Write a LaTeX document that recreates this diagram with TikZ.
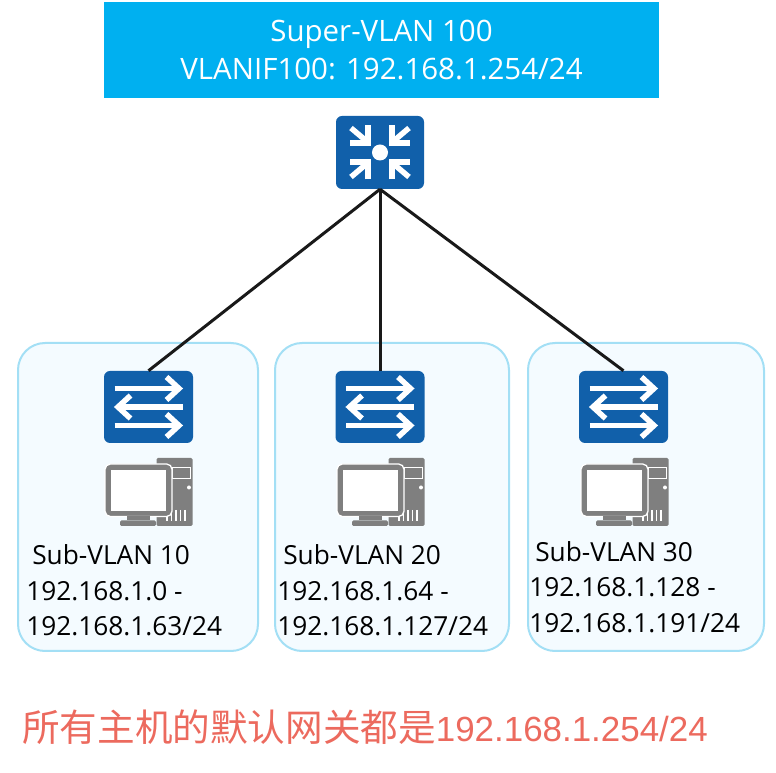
\documentclass[tikz,border=0pt]{standalone}
\usepackage{fontspec}
\setmainfont{Open Sans}
\newfontfamily\cjkfont{Noto Sans CJK SC}
\newfontfamily\arialfont{Liberation Sans}
\usetikzlibrary{positioning}
\newcommand{\unitpx}{0.75pt}
\definecolor{iconblue}{HTML}{1160AA}
\definecolor{pcgray}{HTML}{7F7F7F}
\definecolor{vlanfill}{HTML}{F4FBFF}
\definecolor{vlanedge}{HTML}{A3DFF5}
\definecolor{headfill}{HTML}{00B0F0}
\definecolor{notered}{HTML}{EC6A5E}
\tikzstyle{vlanbox} =
        [
                rectangle,
                draw = vlanedge,
                line width = 2*\unitpx,
                fill = vlanfill,
                rounded corners = 27*\unitpx,
                minimum height = 308*\unitpx,
                inner sep = 0pt
        ]
\tikzstyle{devbox} =
        [
                rectangle,
                fill = iconblue,
                rounded corners = 6*\unitpx,
                minimum width = 89*\unitpx,
                minimum height = 72*\unitpx,
                inner sep = 0pt
        ]
\tikzstyle{header} =
        [
                rectangle,
                fill = headfill,
                text = white,
                align = center,
                minimum width = 555*\unitpx,
                minimum height = 96*\unitpx,
                inner sep = 0pt,
                font = \fontsize{22.1pt}{28pt}\selectfont
        ]
\tikzstyle{label} =
        [
                anchor = north west,
                align = left,
                inner sep = 0pt,
                text = black,
                font = \fontsize{19.7pt}{26.6pt}\selectfont
        ]
\tikzstyle{link} =
        [
                draw = black!90,
                line width = 3*\unitpx
        ]
\tikzset{
        whiteline/.style = {draw = white, line width = 5.5*\unitpx, miter limit = 10},
        swarrows/.pic = {
                \draw [whiteline] (-34,-18.5) -- (30,-18.5);
                \draw [whiteline] (18,-30) -- (30.5,-18.5) -- (18,-7);
                \draw [whiteline] (34,0) -- (-30,0);
                \draw [whiteline] (-18,-11.5) -- (-30.5,0) -- (-18,11.5);
                \draw [whiteline] (-34,18.5) -- (30,18.5);
                \draw [whiteline] (18,7) -- (30.5,18.5) -- (18,30);
        },
        rtarrows/.pic = {
                \fill [white] (0,0) circle (8);
                \foreach \sx in {1,-1} {
                        \foreach \sy in {1,-1} {
                                \begin{scope}[xscale = \sx, yscale = \sy]
                                        \draw [whiteline] (-11.8,-27) -- (-11.8,-9.4) -- (-30,-9.4);
                                        \draw [whiteline] (-29,-24.5) -- (-13,-11);
                                \end{scope}
                        }
                }
        },
        pcicon/.pic = {
                % tower
                \fill [pcgray, rounded corners = 1] (7.5,-34) rectangle (43.5,34);
                \draw [white, line width = 1*\unitpx] (23.5,-24) rectangle (41.5,-13.5);
                \fill [white] (40,-4.5) circle (2);
                \foreach \ventx in {18,22.5,27,31.5,36} {
                        \draw [white, line width = 1.3*\unitpx] (\ventx,18) -- (\ventx,29);
                }
                % monitor
                \fill [pcgray, rounded corners = 4, draw = white, line width = 1.3*\unitpx] (-44,-28) rectangle (23,24.5);
                \fill [white] (-38,-21.5) rectangle (17,19);
                \fill [pcgray] (-22.5,24.5) rectangle (1,28.5);
                \fill [pcgray, rounded corners = 1] (-29,28.5) rectangle (7,34);
        }
}
\begin{document}
\begin{tikzpicture}[x = 0.75pt, y = -0.75pt]
        \useasboundingbox (0,0) rectangle (776,773);
        \node [header] (super) at (381.5,50) {Super-VLAN 100\\VLANIF100: 192.168.1.254/24};

        \node [vlanbox, minimum width = 240*\unitpx] (vlan1) at (138,497) {};
        \node [vlanbox, minimum width = 234*\unitpx] (vlan2) at (392,497) {};
        \node [vlanbox, minimum width = 236*\unitpx] (vlan3) at (646,497) {};

        \node [devbox, minimum width = 88*\unitpx, minimum height = 73*\unitpx] (router) at (380,152.5) {};
        \node [devbox] (sw1) at (148.5,407) {};
        \node [devbox] (sw2) at (380,407) {};
        \node [devbox] (sw3) at (623.5,407) {};

        \path [link] (router.south) -- (sw1.north);
        \path [link] (router.south) -- (sw2.north);
        \path [link] (router.south) -- (sw3.north);

        \pic at (router) {rtarrows};
        \pic at (sw1) {swarrows};
        \pic at (sw2) {swarrows};
        \pic at (sw3) {swarrows};
        \pic at (149,492) {pcicon};
        \pic at (381,492) {pcicon};
        \pic at (625,492) {pcicon};

        \node [label] (net1) at (26,544.5) {\hspace{4.5pt}Sub-VLAN 10\\192.168.1.0 -\\192.168.1.63/24};
        \node [label] (net2) at (277,544.5) {\hspace{4.5pt}Sub-VLAN 20\\192.168.1.64 -\\192.168.1.127/24};
        \node [label] (net3) at (529,541) {\hspace{4.5pt}Sub-VLAN 30\\192.168.1.128 -\\192.168.1.191/24};

        \node [anchor = west, inner sep = 0pt, text = notered, font = \fontsize{28.2pt}{34pt}\selectfont] (note) at (22,727) {\cjkfont 所有主机的默认网关都是\arialfont\fontsize{26.2pt}{34pt}\selectfont 192.168.1.254/24};
\end{tikzpicture}
\end{document}
